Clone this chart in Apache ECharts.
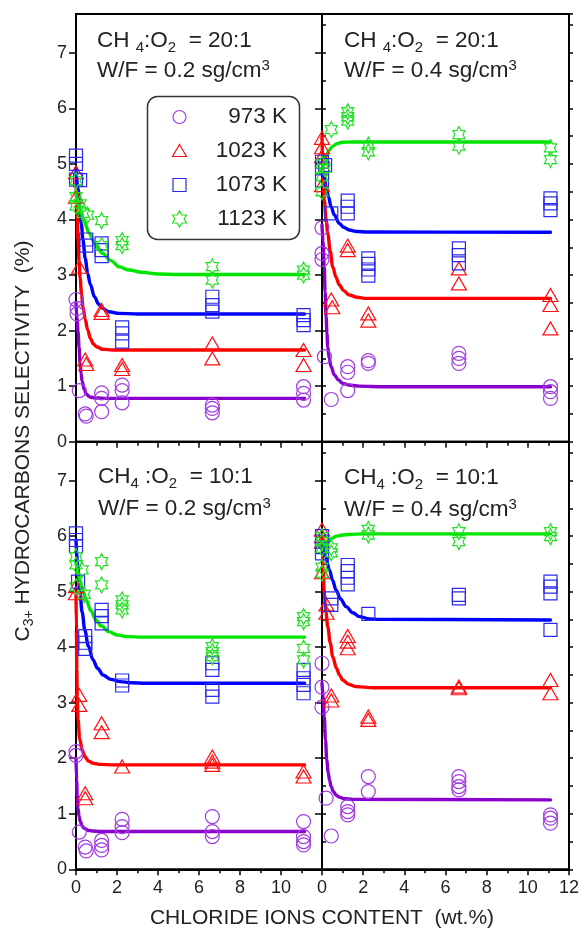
<!DOCTYPE html>
<html><head><meta charset="utf-8">
<script src="https://cdn.jsdelivr.net/npm/echarts@6/dist/echarts.min.js"></script>
<style>html,body{margin:0;padding:0;background:#fff}#c{width:579px;height:929px}</style>
</head><body><div id="c"></div>
<script>
// ---------- DATA ----------
const temps = ['973 K', '1023 K', '1073 K', '1123 K'];
const xTicks = [0, 2, 4, 6, 8, 10, 12];
const yTicks = [0, 1, 2, 3, 4, 5, 6, 7];

// Top-left: CH4:O2 = 20:1, W/F = 0.2
const tl973 = [[0,2.56],[0.05,2.4],[0.05,2.3],[0.16,0.92],[0.45,0.5],[0.5,0.46],[1.25,0.88],[1.25,0.78],[1.25,0.54],[2.25,1.02],[2.25,0.92],[2.25,0.7],[6.65,0.66],[6.65,0.6],[6.65,0.52],[11.1,0.99],[11.1,0.87],[11.1,0.75]];
const tl1023 = [[0,4.85],[0,4.41],[0.16,3.15],[0.45,1.48],[0.5,1.4],[1.25,2.37],[1.25,2.32],[2.25,1.38],[2.25,1.31],[6.65,1.77],[6.65,1.5],[11.1,1.65],[11.1,1.38]];
const tl1073 = [[0,5.15],[0,5.0],[0,4.72],[0.2,4.71],[0.5,3.64],[0.5,3.53],[1.25,3.57],[1.25,3.45],[1.25,3.34],[2.25,2.06],[2.25,1.95],[2.25,1.8],[6.65,2.61],[6.65,2.46],[6.65,2.34],[11.1,2.28],[11.1,2.19],[11.1,2.1]];
const tl1123 = [[0,4.7],[0,4.41],[0,4.24],[0.2,4.28],[0.35,4.11],[0.57,4.08],[1.25,3.98],[1.25,3.53],[2.25,3.62],[2.25,3.53],[6.65,3.15],[6.65,2.91],[11.1,3.09],[11.1,3.0]];

// Top-right: CH4:O2 = 20:1, W/F = 0.4
const tr973 = [[0,3.85],[0,3.39],[0,3.28],[0.12,1.53],[0.45,0.76],[1.25,1.35],[1.25,1.25],[1.25,0.92],[2.25,1.46],[2.25,1.41],[6.65,1.59],[6.65,1.5],[6.65,1.41],[11.1,0.99],[11.1,0.9],[11.1,0.78]];
const tr1023 = [[0,5.47],[0,5.3],[0,5.14],[0,4.62],[0.45,2.56],[0.5,2.42],[1.25,3.53],[1.25,3.45],[2.25,2.31],[2.25,2.18],[6.65,3.12],[6.65,2.85],[11.1,2.64],[11.1,2.46],[11.1,2.04]];
const tr1073 = [[0,5.04],[0,4.92],[0,4.7],[0.15,4.98],[0.45,4.11],[1.25,4.34],[1.25,4.23],[1.25,4.11],[2.25,3.3],[2.25,3.2],[2.25,3.1],[2.25,2.99],[6.65,3.48],[6.65,3.36],[6.65,3.21],[11.1,4.38],[11.1,4.29],[11.1,4.17]];
const tr1123 = [[0,5.0],[0,4.77],[0,4.5],[0.12,4.92],[0.45,5.62],[1.25,5.94],[1.25,5.85],[1.25,5.77],[2.25,5.34],[2.25,5.22],[6.65,5.53],[6.65,5.32],[11.1,5.29],[11.1,5.08]];

// Bottom-left: CH4:O2 = 10:1, W/F = 0.2
const bl973 = [[0,2.12],[0,2.05],[0.16,0.67],[0.45,0.4],[0.5,0.33],[1.25,0.52],[1.25,0.43],[1.25,0.35],[2.25,0.9],[2.25,0.77],[2.25,0.66],[6.65,0.95],[6.65,0.68],[6.65,0.59],[11.1,0.86],[11.1,0.59],[11.1,0.5],[11.1,0.44]];
const bl1023 = [[0,5.1],[0,4.97],[0.16,3.14],[0.16,2.96],[0.45,1.37],[0.45,1.28],[1.25,2.63],[1.25,2.47],[2.25,1.85],[6.65,2.03],[6.65,1.94],[6.65,1.88],[11.1,1.76],[11.1,1.67]];
const bl1073 = [[0,6.05],[0,5.93],[0,5.82],[0.1,5.18],[0.45,4.2],[0.45,4.08],[0.45,3.97],[1.25,4.67],[1.25,4.56],[1.25,4.43],[2.25,3.4],[2.25,3.31],[6.65,3.71],[6.65,3.59],[6.65,3.23],[6.65,3.11],[11.1,3.59],[11.1,3.44],[11.1,3.32],[11.1,3.17]];
const bl1123 = [[0,5.63],[0,5.48],[0,5.09],[0.3,5.39],[0.4,4.95],[1.25,5.54],[1.25,5.12],[2.25,4.85],[2.25,4.76],[2.25,4.67],[6.65,4.01],[6.65,3.92],[6.65,3.83],[11.1,4.55],[11.1,4.46],[11.1,3.98],[11.1,3.77]];

// Bottom-right: CH4:O2 = 10:1, W/F = 0.4
const br973 = [[0,3.71],[0,3.28],[0,2.92],[0.2,1.28],[0.45,0.6],[1.25,1.13],[1.25,1.04],[1.25,0.98],[2.25,1.67],[2.25,1.4],[6.65,1.67],[6.65,1.58],[6.65,1.49],[6.65,1.43],[11.1,0.98],[11.1,0.92],[11.1,0.83]];
const br1023 = [[0,6.12],[0,6.0],[0,5.9],[0,5.35],[0.22,4.77],[0.22,4.62],[0.45,3.13],[0.45,3.04],[1.25,4.2],[1.25,4.1],[1.25,3.98],[2.25,2.75],[2.25,2.69],[6.65,3.29],[6.65,3.26],[11.1,3.41],[11.1,3.17]];
const br1073 = [[0,6.0],[0,5.9],[0,5.8],[0,5.69],[0.45,4.88],[0.45,4.76],[1.25,5.48],[1.25,5.37],[1.25,5.25],[1.25,5.13],[2.25,4.6],[6.65,4.94],[6.65,4.88],[11.1,5.18],[11.1,5.09],[11.1,4.97],[11.1,4.31]];
const br1123 = [[0,5.99],[0,5.9],[0,5.78],[0,5.44],[0,5.33],[0.45,5.79],[0.45,5.7],[2.25,6.12],[2.25,6.02],[6.65,6.08],[6.65,5.9],[11.1,6.08],[11.1,5.99]];

// fitted curves
const tl973Fit = [[0,2.5],[0.05,2.22],[0.1,1.98],[0.15,1.7],[0.2,1.42],[0.25,1.22],[0.3,1.09],[0.4,0.94],[0.5,0.86],[0.65,0.81],[0.8,0.795],[1.0,0.787],[1.5,0.78],[11.15,0.78]];
const tl1023Fit = [[0,4.7],[0.05,4.1],[0.1,3.63],[0.15,3.25],[0.2,2.95],[0.27,2.65],[0.34,2.43],[0.45,2.2],[0.57,2.01],[0.7,1.86],[0.85,1.76],[1.0,1.71],[1.3,1.665],[1.8,1.652],[2.5,1.65],[11.15,1.65]];
const tl1073Fit = [[0,4.9],[0.1,4.55],[0.18,4.23],[0.26,3.92],[0.34,3.63],[0.45,3.3],[0.57,3.03],[0.7,2.83],[0.9,2.61],[1.1,2.48],[1.29,2.4],[1.6,2.34],[2.1,2.31],[3,2.3],[11.15,2.3]];
const tl1123Fit = [[0,4.48],[0.2,4.19],[0.4,3.96],[0.65,3.75],[0.9,3.58],[1.3,3.39],[1.7,3.26],[2.1,3.15],[2.6,3.09],[3.2,3.05],[4,3.02],[5,3.01],[11.15,3.01]];

const tr973Fit = [[0,3.9],[0.05,3.6],[0.11,3.15],[0.15,2.7],[0.2,2.25],[0.24,1.95],[0.28,1.71],[0.35,1.5],[0.44,1.35],[0.6,1.2],[0.8,1.11],[1.0,1.05],[1.4,1.015],[1.82,1.0],[3,0.99],[11.1,0.99]];
const tr1023Fit = [[0,5.5],[0.05,4.85],[0.11,4.35],[0.2,4.0],[0.28,3.75],[0.4,3.43],[0.52,3.15],[0.68,2.96],[0.84,2.82],[1.05,2.72],[1.33,2.64],[1.7,2.6],[2.14,2.58],[11.1,2.58]];
const tr1073Fit = [[0,4.9],[0.1,4.76],[0.2,4.6],[0.32,4.4],[0.44,4.23],[0.6,4.08],[0.84,3.93],[1.05,3.86],[1.33,3.81],[1.7,3.785],[2.2,3.775],[11.1,3.77]];
const tr1123Fit = [[0,4.88],[0.1,5.02],[0.2,5.14],[0.35,5.25],[0.52,5.32],[0.75,5.37],[1.0,5.39],[1.5,5.395],[11.1,5.395]];

const bl973Fit = [[0,2.0],[0.03,1.6],[0.06,1.32],[0.1,1.1],[0.15,0.95],[0.2,0.87],[0.3,0.78],[0.4,0.74],[0.6,0.7],[0.8,0.69],[1.2,0.68],[11.15,0.68]];
const bl1023Fit = [[0,5.0],[0.02,4.3],[0.04,3.6],[0.06,3.1],[0.1,2.7],[0.18,2.35],[0.3,2.15],[0.43,2.03],[0.6,1.95],[0.83,1.91],[1.2,1.89],[1.8,1.88],[11.15,1.88]];
const bl1073Fit = [[0,5.93],[0.09,5.45],[0.18,5.03],[0.3,4.63],[0.43,4.31],[0.6,4.02],[0.83,3.77],[1.05,3.62],[1.32,3.5],[1.7,3.42],[2.14,3.38],[2.7,3.36],[3.4,3.35],[11.15,3.35]];
const bl1123Fit = [[0,5.51],[0.09,5.36],[0.18,5.21],[0.32,5.03],[0.5,4.85],[0.72,4.66],[0.97,4.49],[1.25,4.38],[1.6,4.28],[2.0,4.22],[2.54,4.19],[3.2,4.18],[11.15,4.18]];

const br973Fit = [[0,3.35],[0.06,3.1],[0.11,2.75],[0.17,2.33],[0.23,1.97],[0.3,1.75],[0.37,1.6],[0.44,1.49],[0.55,1.4],[0.7,1.33],[0.84,1.3],[1.1,1.27],[1.49,1.26],[11.1,1.25]];
const br1023Fit = [[0,6.0],[0.05,5.45],[0.11,4.97],[0.19,4.63],[0.28,4.37],[0.4,4.08],[0.52,3.83],[0.7,3.62],[0.85,3.5],[1.0,3.41],[1.3,3.33],[1.66,3.29],[2.5,3.27],[11.1,3.27]];
const br1073Fit = [[0,5.87],[0.18,5.63],[0.36,5.39],[0.52,5.2],[0.68,5.03],[0.9,4.87],[1.17,4.73],[1.5,4.62],[1.82,4.55],[2.3,4.51],[2.8,4.5],[11.1,4.49]];
const br1123Fit = [[0,5.75],[0.14,5.83],[0.28,5.9],[0.48,5.96],[0.68,6.0],[1.0,6.02],[1.33,6.03],[2,6.04],[11.1,6.04]];

// ---------- STYLE ----------
const FONT = '"Liberation Sans", Arial, Helvetica, sans-serif';
const TXT = '#222';
const markerColors = ['#a03ce0', '#ff1010', '#2a2aee', '#22e022'];
const lineColors = ['#8a00cc', '#ff0000', '#0000ff', '#00e600'];
const STAR = 'path://M50 0 L64.43 25 L93.3 25 L78.87 50 L93.3 75 L64.43 75 L50 100 L35.57 75 L6.7 75 L21.13 50 L6.7 25 L35.57 25 Z';
const symbols = ['circle', 'triangle', 'rect', STAR];
const symSizes = [14, [15, 13], 13, [14, 16]];

const panels = [
  { pts: [tl973, tl1023, tl1073, tl1123], fits: [tl973Fit, tl1023Fit, tl1073Fit, tl1123Fit], left: 76, top: 14, width: 246, height: 427.7, yLab: true, xLab: false },
  { pts: [tr973, tr1023, tr1073, tr1123], fits: [tr973Fit, tr1023Fit, tr1073Fit, tr1123Fit], left: 322, top: 14, width: 247, height: 427.7, yLab: false, xLab: false },
  { pts: [bl973, bl1023, bl1073, bl1123], fits: [bl973Fit, bl1023Fit, bl1073Fit, bl1123Fit], left: 76, top: 441.7, width: 246, height: 427.6, yLab: true, xLab: true, hideMax: true },
  { pts: [br973, br1023, br1073, br1123], fits: [br973Fit, br1023Fit, br1073Fit, br1123Fit], left: 322, top: 441.7, width: 247, height: 427.6, yLab: false, xLab: true }
];

const grid = [], xAxis = [], yAxis = [], series = [];
const axisLine = { show: true, lineStyle: { color: '#000', width: 2 } };
panels.forEach((p, i) => {
  grid.push({ left: p.left, top: p.top, width: p.width, height: p.height, show: true,
    borderColor: '#000', borderWidth: 2, backgroundColor: 'transparent', containLabel: false, outerBoundsMode: 'none' });
  xAxis.push({ type: 'value', gridIndex: i, min: xTicks[0], max: xTicks[xTicks.length - 1], interval: 2,
    axisLine, splitLine: { show: false },
    axisTick: { show: true, inside: false, length: 6, lineStyle: { color: '#000', width: 1.5 } },
    minorTick: { show: true, splitNumber: 2, length: 4, lineStyle: { color: '#000', width: 1.5 } },
    axisLabel: { show: p.xLab, margin: 10, fontSize: 18, fontFamily: FONT, color: TXT, showMaxLabel: !p.hideMax,
      formatter: v => xTicks.includes(v) ? String(v) : '' } });
  yAxis.push({ type: 'value', gridIndex: i, min: 0, max: 7.7, interval: 1,
    axisLine, splitLine: { show: false },
    axisTick: { show: true, inside: false, length: 7, lineStyle: { color: '#000', width: 1.5 } },
    axisLabel: { show: p.yLab, margin: 9, fontSize: 18, fontFamily: FONT, color: TXT, showMaxLabel: false,
      formatter: v => yTicks.includes(v) ? String(v) : '' } });
  yAxis.push({ type: 'value', gridIndex: i, min: 0, max: 7.7, interval: 0.5,
    axisLine: { show: false }, splitLine: { show: false }, axisLabel: { show: false },
    axisTick: { show: true, inside: false, length: 4, lineStyle: { color: '#000', width: 1.5 } } });
  for (let t = 0; t < 4; t++) {
    series.push({ type: 'line', name: temps[t], xAxisIndex: i, yAxisIndex: 2 * i, data: p.fits[t],
      showSymbol: false, symbol: 'none', smooth: 0.35, smoothMonotone: 'x', clip: false, silent: true, z: 2,
      lineStyle: { color: lineColors[t], width: 3.4, cap: 'round', join: 'round' } });
  }
  for (let t = 0; t < 4; t++) {
    series.push({ type: 'scatter', name: temps[t], xAxisIndex: i, yAxisIndex: 2 * i, data: p.pts[t],
      symbol: symbols[t], symbolSize: symSizes[t], symbolKeepAspect: true, clip: false, silent: true, z: 3,
      itemStyle: { color: 'rgba(0,0,0,0)', borderColor: markerColors[t], borderWidth: 1.2, opacity: 1 } });
  }
});

// ---------- TEXT / LEGEND GRAPHICS ----------
const richBase = {
  a: { fontSize: 22.5, fontFamily: FONT, fill: TXT, color: TXT },
  s: { fontSize: 15, fontFamily: FONT, fill: TXT, color: TXT, padding: [13, 0, 0, 0] },
  p: { fontSize: 15, fontFamily: FONT, fill: TXT, color: TXT, padding: [0, 0, 10, 0] }
};
function label(x, y, text) {
  return { type: 'text', x, y, silent: true, style: { text, rich: richBase, align: 'left', verticalAlign: 'middle', fill: TXT, font: '22.5px ' + FONT } };
}
const notes = [
  label(97, 41, '{a|CH }{s|4}{a|:O}{s|2}{a|  = 20:1}'),
  label(97, 71, '{a|W/F = 0.2 sg/cm}{p|3}'),
  label(344, 41, '{a|CH }{s|4}{a|:O}{s|2}{a|  = 20:1}'),
  label(344, 71, '{a|W/F = 0.4 sg/cm}{p|3}'),
  label(98, 477, '{a|CH}{s|4}{a| :O}{s|2}{a|  = 10:1}'),
  label(98, 509, '{a|W/F = 0.2 sg/cm}{p|3}'),
  label(344, 478, '{a|CH}{s|4}{a| :O}{s|2}{a|  = 10:1}'),
  label(344, 510, '{a|W/F = 0.4 sg/cm}{p|3}')
];

const legendX = 179.5, legendRows = [117, 151, 185, 219];
function starPts(cx, cy, R) {
  const pts = [];
  for (let k = 0; k < 12; k++) {
    const r = k % 2 === 0 ? R : R / Math.sqrt(3);
    const a = k * Math.PI / 6;
    pts.push([cx + r * Math.sin(a), cy - r * Math.cos(a)]);
  }
  return pts;
}
const lg = [
  { type: 'rect', shape: { x: 147.5, y: 96.5, width: 152, height: 143, r: 10 }, style: { fill: 'none', stroke: '#333', lineWidth: 1.5 }, silent: true },
  { type: 'circle', shape: { cx: legendX, cy: legendRows[0], r: 6.5 }, style: { fill: 'none', stroke: markerColors[0], lineWidth: 1.2 }, silent: true },
  { type: 'polygon', shape: { points: [[legendX, legendRows[1] - 6.5], [legendX + 7, legendRows[1] + 5.5], [legendX - 7, legendRows[1] + 5.5]] }, style: { fill: 'none', stroke: markerColors[1], lineWidth: 1.2 }, silent: true },
  { type: 'rect', shape: { x: legendX - 6.5, y: legendRows[2] - 6.5, width: 13, height: 13 }, style: { fill: 'none', stroke: markerColors[2], lineWidth: 1.2 }, silent: true },
  { type: 'polygon', shape: { points: starPts(legendX, legendRows[3], 8) }, style: { fill: 'none', stroke: markerColors[3], lineWidth: 1.2 }, silent: true }
];
temps.forEach((t, k) => lg.push({ type: 'text', x: 287, y: legendRows[k], silent: true,
  style: { text: t, align: 'right', verticalAlign: 'middle', fill: TXT, font: '22.5px ' + FONT } }));

const titles = [
  { type: 'text', x: 322, y: 918, silent: true,
    style: { text: 'CHLORIDE IONS CONTENT  (wt.%)', align: 'center', verticalAlign: 'middle', fill: TXT, font: '21px ' + FONT } },
  { type: 'text', x: 23, y: 441, rotation: Math.PI / 2, silent: true,
    style: { text: '{a|C}{s|3+}{a| HYDROCARBONS SELECTIVITY  (%)}', align: 'center', verticalAlign: 'middle', fill: TXT, font: '21px ' + FONT,
      rich: { a: { fontSize: 21, fontFamily: FONT, fill: TXT, color: TXT }, s: { fontSize: 14, fontFamily: FONT, fill: TXT, color: TXT, padding: [12, 0, 0, 0] } } } }
];

const chart = echarts.init(document.getElementById('c'), null, { renderer: 'canvas' });
chart.setOption({
  animation: false,
  backgroundColor: '#fff',
  grid, xAxis, yAxis, series,
  graphic: { elements: [...notes, ...lg, ...titles] }
});
</script></body></html>
